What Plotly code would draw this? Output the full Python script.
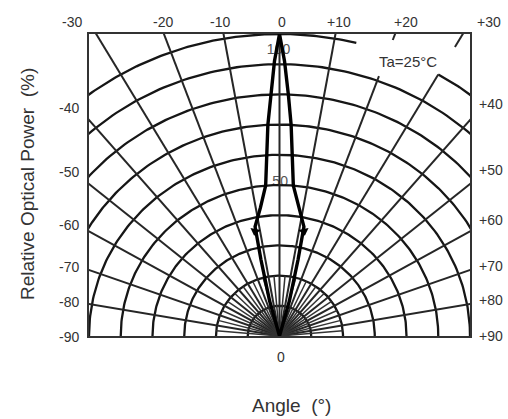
"""
Polar radiation pattern of a narrow-beam LED, drawn on a clipped
rectangular frame like the datasheet figure.
"""

import numpy as np
import plotly.graph_objects as go

# Relative optical power (%) against off-axis angle (deg), one side.
lobe_angle = [0, 1, 2, 3, 5, 8, 12, 13, 15, 20]
lobe_power = [100, 91, 80, 70, 50, 43, 37, 26, 12, 0]

ring_levels = [10, 20, 30, 40, 50, 60, 70, 80, 90, 100]
spoke_major = [-80, -70, -60, -50, -40, -30, -20, -10, 0,
               10, 20, 30, 40, 50, 60, 70, 80]
spoke_minor = [-85, -75, -65, -55, -45, -35, -25, -15, -5,
               5, 15, 25, 35, 45, 55, 65, 75, 85]

top_labels = ['-30', '-20', '-10', '0', '+10', '+20', '+30']
left_labels = ['-40', '-50', '-60', '-70', '-80', '-90']
right_labels = ['+40', '+50', '+60', '+70', '+80', '+90']
ring_labels = ['100', '50']

# plot area in page pixels
L, R, T, B = 89, 470, 34, 336
W, H = 508, 419


def paper(px, py):
    """Page pixel -> paper coordinates."""
    return (px - L) / (R - L), (B - py) / (B - T)


def polar(r, deg):
    a = np.radians(deg)
    return r * np.sin(a), r * np.cos(a)


def arc(r, a0, a1):
    x, y = polar(r, np.linspace(a0, a1, 200))
    return list(x) + [None], list(y) + [None]


def spoke(deg, r0, r1):
    x, y = polar(np.array([r0, r1]), deg)
    return list(x) + [None], list(y) + [None]


fig = go.Figure()

# ring value labels sit under the grid and the curve
fig.add_trace(go.Scatter(
    x=[-0.3, 0.2], y=[94.5, 50.8], mode='text', text=ring_labels,
    textfont={'size': 14, 'color': '#555555'}, hoverinfo='skip'
))

# rings, with the outer one broken where the temperature note sits
rx, ry = [], []
for r in ring_levels:
    spans = [(-90, 14), (30, 90)] if r == 100 else [(-90, 90)]
    for a0, a1 in spans:
        x, y = arc(r, a0, a1)
        rx += x
        ry += y
fig.add_trace(go.Scatter(x=rx, y=ry, mode='lines', hoverinfo='skip',
                         line={'color': '#161616', 'width': 2.3}))

# spokes every 10 deg, the +20/+30 ones erased near the note
sx, sy = [], []
for a in spoke_major:
    if a == 20:
        spans = [(0, 91.6), (104.3, 130)]
    elif a == 30:
        spans = [(0, 100), (110.5, 130)]
    else:
        spans = [(0, 130)]
    for r0, r1 in spans:
        x, y = spoke(a, r0, r1)
        sx += x
        sy += y
fig.add_trace(go.Scatter(x=sx, y=sy, mode='lines', hoverinfo='skip',
                         line={'color': '#262626', 'width': 2}))

# short in-between spokes round the origin
mx, my = [], []
for a in spoke_minor:
    x, y = spoke(a, 0, 20)
    mx += x
    my += y
fig.add_trace(go.Scatter(x=mx, y=my, mode='lines', hoverinfo='skip',
                         line={'color': '#333333', 'width': 1.5}))

# the beam itself, mirrored about 0 deg
ang = [-a for a in lobe_angle[::-1]] + lobe_angle[1:]
pw = lobe_power[::-1] + lobe_power[1:]
lx, ly = polar(np.array(pw, dtype=float), np.array(ang, dtype=float))
fig.add_trace(go.Scatter(x=lx, y=ly, mode='lines', hoverinfo='skip',
                         line={'color': '#000000', 'width': 3.4}))

# little darts on the widest part of the beam
k = lobe_angle.index(12)
dx, dy = polar(np.array([lobe_power[k]] * 2, dtype=float),
               np.array([-12.0, 12.0]))
fig.add_trace(go.Scatter(
    x=dx, y=dy - 1.5, mode='markers', hoverinfo='skip',
    marker={'symbol': 'triangle-down', 'size': 9, 'color': '#000000',
            'angle': [12, -12]}
))

annotations = []


def label(text, px, py, size=14, color='#333333', angle=0):
    x, y = paper(px, py)
    annotations.append(dict(
        x=x, y=y, xref='paper', yref='paper', text=text, showarrow=False,
        xanchor='center', yanchor='middle', textangle=angle,
        font={'size': size, 'color': color}
    ))


for t, px in zip(top_labels, [72, 163, 220, 282, 339, 406, 489]):
    label(t, px, 22)
for t, py in zip(left_labels, [108, 172, 225, 267, 302, 337]):
    label(t, 69, py)
for t, py in zip(right_labels, [104, 170, 220, 266, 300, 336]):
    label(t, 491, py)
label('0', 281, 357)
label('Ta=25°C', 408, 61, size=15)
label('Angle  (°)', 291, 405, size=19)
label('Relative Optical Power  (%)', 27, 184, size=19, angle=-90)

fig.update_layout(
    width=W, height=H,
    margin={'l': L, 'r': W - R, 't': T, 'b': H - B},
    plot_bgcolor='#FFFFFF', paper_bgcolor='#FFFFFF',
    font={'family': 'Liberation Sans, Arial, sans-serif', 'color': '#333333'},
    showlegend=False,
    annotations=annotations
)
fig.update_xaxes(range=[-60, 60], showgrid=False, zeroline=False,
                 showticklabels=False, ticks='', showline=True, mirror=True,
                 linecolor='#333333', linewidth=2)
fig.update_yaxes(range=[0, 100], showgrid=False, zeroline=False,
                 showticklabels=False, ticks='', showline=True, mirror=True,
                 linecolor='#333333', linewidth=2)

# drop the default page margin so the figure sits at the window corner
fig.write_html("out.html", config={'displayModeBar': False},
               post_script="document.body.style.margin = '0';")
